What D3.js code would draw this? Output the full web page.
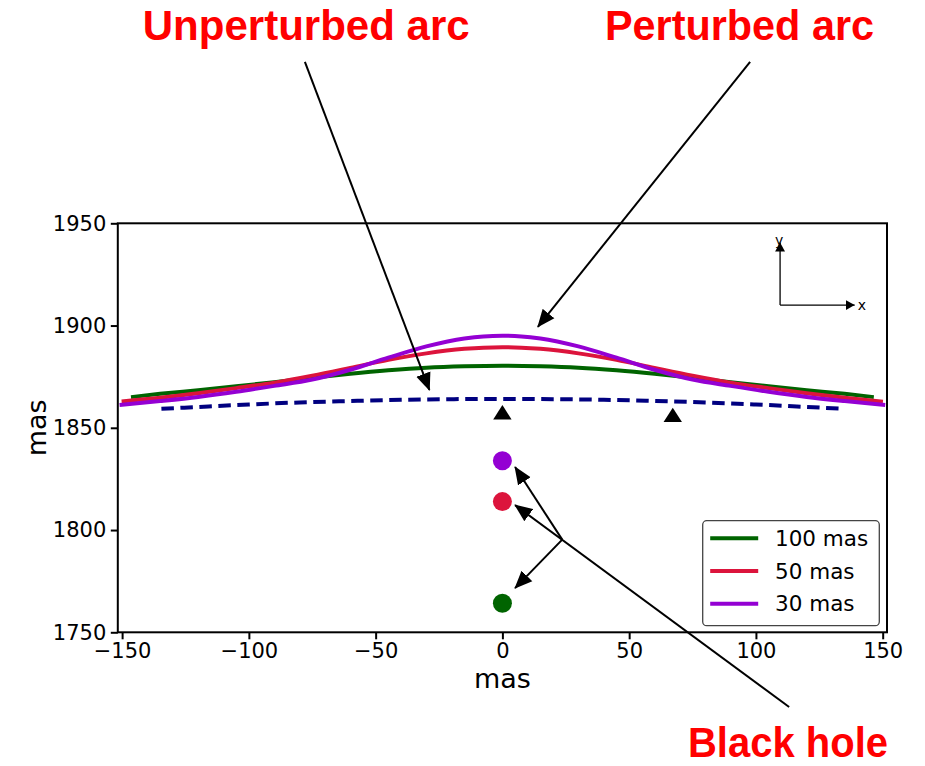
<!DOCTYPE html>
<html>
<head>
<meta charset="utf-8">
<script src="https://cdn.jsdelivr.net/npm/d3@7"></script>
<style>
body { margin: 0; background: #fff; }
text { font-family: "DejaVu Sans", sans-serif; }
</style>
</head>
<body>
<div id="graphId"></div>
<script>
// values (mas)
var seriesNames = ["100 mas", "50 mas", "30 mas"];
var seriesColors = ["darkgreen", "crimson", "darkviolet"];

var greenX = [-146.5, -135, -120, -105, -90, -75, -60, -45, -30, -15, 0, 15, 30, 45, 60, 75, 90, 105, 120, 135, 146.5];
var greenY = [1865.0, 1866.6, 1868.4, 1870.3, 1872.3, 1874.4, 1876.4, 1878.1, 1879.4, 1880.1, 1880.4, 1880.1, 1879.4, 1878.1, 1876.4, 1874.4, 1872.3, 1870.3, 1868.4, 1866.6, 1865.0];

var redX = [-150.2, -135, -120, -105, -90, -75, -60, -45, -30, -15, -7.5, 0, 7.5, 15, 30, 45, 60, 75, 90, 105, 120, 135, 150.1];
var redY = [1862.9, 1864.7, 1866.9, 1869.4, 1872.1, 1875.5, 1879.3, 1883.2, 1886.4, 1888.6, 1889.2, 1889.4, 1889.2, 1888.6, 1886.4, 1883.2, 1879.3, 1875.5, 1872.1, 1869.4, 1866.9, 1864.7, 1862.8];

var purpleX = [-151, -135, -120, -105, -90, -75, -60, -45, -30, -15, -7.5, 0, 7.5, 15, 30, 45, 60, 75, 90, 105, 120, 135, 151];
var purpleY = [1861.2, 1863.1, 1865.1, 1867.6, 1870.5, 1873.6, 1878.4, 1884.3, 1889.8, 1893.7, 1894.7, 1895.0, 1894.7, 1893.7, 1889.8, 1884.3, 1878.4, 1873.6, 1870.5, 1867.6, 1865.1, 1863.1, 1861.2];

var unpertX = [-134.5, -120, -100, -80, -60, -40, -20, 0, 20, 40, 60, 80, 100, 120, 134.5];
var unpertY = [1859.3, 1860.2, 1861.4, 1862.4, 1863.1, 1863.7, 1864.0, 1864.1, 1864.0, 1863.7, 1863.1, 1862.4, 1861.4, 1860.2, 1859.3];

// black hole positions, one per series
var holeX = [0, 0, 0];
var holeY = [1764.2, 1813.9, 1833.9];

// source images (triangles)
var imageX = [0, 67.2];
var imageY = [1857.6, 1856.3];

var xTicks = [-150, -100, -50, 0, 50, 100, 150];
var yTicks = [1750, 1800, 1850, 1900, 1950];

// annotation arrows, in data units: [fromX, fromY, toX, toY]
var arrowUnpert = [-77.9, 2028.9, -28.8, 1868.5];
var arrowPert = [97.7, 2028.9, 14.0, 1899.4];
var arrowHoleMain = [113.1, 1713.5, 5.0, 1812.2];
var arrowHoleJoint = [23.6, 1795.3];
var arrowHoleTips = [[5.0, 1830.8], [5.0, 1771.6]];

var wt = 925;
var ht = 766;
var margin = {
    top: 223.3,
    right: 38,
    bottom: 133.7,
    left: 117.8
};
var width = wt - margin.left - margin.right;
var height = ht - margin.top - margin.bottom;

var svg = d3.select("#graphId").append("svg")
    .attr("width", wt)
    .attr("height", ht);

svg.append("rect")
    .attr("width", wt)
    .attr("height", ht)
    .attr("fill", "#fff");

var defs = svg.append("defs");
defs.append("marker")
    .attr("id", "bigHead")
    .attr("markerUnits", "userSpaceOnUse")
    .attr("viewBox", "0 -8 18 16")
    .attr("markerWidth", 18)
    .attr("markerHeight", 16)
    .attr("refX", 17)
    .attr("refY", 0)
    .attr("orient", "auto")
    .append("path")
    .attr("d", "M0,-7.5L18,0L0,7.5Z")
    .attr("fill", "#000");
defs.append("marker")
    .attr("id", "smallHead")
    .attr("markerUnits", "userSpaceOnUse")
    .attr("viewBox", "0 -5 9 10")
    .attr("markerWidth", 9)
    .attr("markerHeight", 10)
    .attr("refX", 9)
    .attr("refY", 0)
    .attr("orient", "auto")
    .append("path")
    .attr("d", "M0,-5L9,0L0,5Z")
    .attr("fill", "#000");

var g = svg.append("g")
    .attr("transform", "translate(" + margin.left + "," + margin.top + ")");

var x = d3.scaleLinear()
    .domain([-151.7, 151.7])
    .range([0, width]);

var y = d3.scaleLinear()
    .domain([1750, 1950])
    .range([height, 0]);

// axes-fraction scales for the little compass
var fx = d3.scaleLinear().domain([0, 1]).range([0, width]);
var fy = d3.scaleLinear().domain([0, 1]).range([height, 0]);

var line = d3.line()
    .x(function (d) { return x(d[0]); })
    .y(function (d) { return y(d[1]); })
    .curve(d3.curveMonotoneX);

var zip = function (xs, ys) {
    return xs.map(function (v, i) { return [v, ys[i]]; });
};

g.append("path")
    .datum(zip(unpertX, unpertY))
    .attr("fill", "none")
    .attr("stroke", "navy")
    .attr("stroke-width", 4)
    .attr("stroke-dasharray", "12.5,6.5")
    .attr("d", line);

var arcs = [zip(greenX, greenY), zip(redX, redY), zip(purpleX, purpleY)];
arcs.forEach(function (a, i) {
    g.append("path")
        .datum(a)
        .attr("class", "line")
        .attr("fill", "none")
        .attr("stroke", seriesColors[i])
        .attr("stroke-width", 4)
        .attr("d", line);
});

// triangles: bbox-centred like matplotlib "^"
var triangle = {
    draw: function (context, size) {
        var s = Math.sqrt(size);
        context.moveTo(0, -s * 0.42);
        context.lineTo(s * 0.54, s * 0.42);
        context.lineTo(-s * 0.54, s * 0.42);
        context.closePath();
    }
};
g.selectAll(".img")
    .data(zip(imageX, imageY))
    .enter().append("path")
    .attr("class", "img")
    .attr("transform", function (d) { return "translate(" + x(d[0]) + "," + y(d[1]) + ")"; })
    .attr("d", d3.symbol().type(triangle).size(290))
    .attr("fill", "#000");

g.selectAll(".hole")
    .data(zip(holeX, holeY))
    .enter().append("circle")
    .attr("class", "hole")
    .attr("cx", function (d) { return x(d[0]); })
    .attr("cy", function (d) { return y(d[1]); })
    .attr("r", 9.5)
    .attr("fill", function (d, i) { return seriesColors[i]; });

// compass
var cOrig = [0.861, 0.8];
g.append("line")
    .attr("x1", fx(cOrig[0])).attr("y1", fy(cOrig[1]))
    .attr("x2", fx(cOrig[0])).attr("y2", fy(0.953))
    .attr("stroke", "#000").attr("stroke-width", 1.3)
    .attr("marker-end", "url(#smallHead)");
g.append("line")
    .attr("x1", fx(cOrig[0])).attr("y1", fy(cOrig[1]))
    .attr("x2", fx(0.958)).attr("y2", fy(cOrig[1]))
    .attr("stroke", "#000").attr("stroke-width", 1.3)
    .attr("marker-end", "url(#smallHead)");
g.append("text")
    .attr("x", fx(cOrig[0]) - 1)
    .attr("y", fy(0.947))
    .attr("text-anchor", "middle")
    .style("font-size", "14px")
    .text("y");
g.append("text")
    .attr("x", fx(0.962))
    .attr("y", fy(cOrig[1]) + 5)
    .style("font-size", "14px")
    .text("x");

// axes
g.append("g")
    .attr("class", "axis axis--x")
    .attr("transform", "translate(0," + height + ")")
    .call(d3.axisBottom(x).tickValues(xTicks).tickFormat(d3.format("d")).tickSize(7).tickPadding(4).tickSizeOuter(0))
    .call(function (a) { a.select(".domain").remove(); });

g.append("g")
    .attr("class", "axis axis--y")
    .call(d3.axisLeft(y).tickValues(yTicks).tickFormat(d3.format("d")).tickSize(7).tickPadding(4.5).tickSizeOuter(0))
    .call(function (a) { a.select(".domain").remove(); });

g.selectAll(".axis .tick line").attr("stroke", "#000").attr("stroke-width", 2);
g.selectAll(".axis text")
    .style("font-family", "'DejaVu Sans', sans-serif")
    .style("font-size", "21px")
    .attr("fill", "#000");

g.append("rect")
    .attr("width", width)
    .attr("height", height)
    .attr("fill", "none")
    .attr("stroke", "#000")
    .attr("stroke-width", 2);

g.append("text")
    .attr("x", x(0))
    .attr("y", height + 56)
    .attr("text-anchor", "middle")
    .style("font-size", "27px")
    .text("mas");

g.append("text")
    .attr("transform", "translate(" + (-72) + "," + (height / 2) + ") rotate(-90)")
    .attr("text-anchor", "middle")
    .style("font-size", "27px")
    .text("mas");

// legend
var legend = g.append("g")
    .attr("transform", "translate(" + (width - 184.3) + "," + (height - 111.6) + ")");
legend.append("rect")
    .attr("width", 176.6)
    .attr("height", 105)
    .attr("rx", 4)
    .attr("fill", "#fff")
    .attr("stroke", "#444")
    .attr("stroke-width", 1.3);
seriesNames.forEach(function (name, i) {
    var row = legend.append("g")
        .attr("transform", "translate(0," + (17.6 + i * 32.7) + ")");
    row.append("line")
        .attr("x1", 7.5).attr("x2", 55.5)
        .attr("stroke", seriesColors[i])
        .attr("stroke-width", 4);
    row.append("text")
        .attr("x", 72.3)
        .attr("dy", "0.36em")
        .style("font-size", "21.5px")
        .text(name);
});

// annotation arrows
var arrow = function (a, head) {
    return g.append("line")
        .attr("x1", x(a[0])).attr("y1", y(a[1]))
        .attr("x2", x(a[2])).attr("y2", y(a[3]))
        .attr("stroke", "#000")
        .attr("stroke-width", 2)
        .attr("marker-end", head ? "url(#bigHead)" : null);
};
arrow(arrowUnpert, true);
arrow(arrowPert, true);
arrow(arrowHoleMain, true);
arrowHoleTips.forEach(function (t) {
    arrow([arrowHoleJoint[0], arrowHoleJoint[1], t[0], t[1]], true);
});

// red captions
var captions = [
    {text: "Unperturbed arc", x: 142.7, y: 39.5, len: 327},
    {text: "Perturbed arc", x: 605, y: 39.5, len: 269},
    {text: "Black hole", x: 688, y: 756.5, len: 200}
];
svg.selectAll(".caption")
    .data(captions)
    .enter().append("text")
    .attr("class", "caption")
    .attr("x", function (d) { return d.x; })
    .attr("y", function (d) { return d.y; })
    .attr("textLength", function (d) { return d.len; })
    .attr("lengthAdjust", "spacingAndGlyphs")
    .attr("fill", "#ff0000")
    .style("font-family", "'Liberation Sans', Arial, sans-serif")
    .style("font-weight", "bold")
    .style("font-size", "43px")
    .text(function (d) { return d.text; });
</script>
</body>
</html>
